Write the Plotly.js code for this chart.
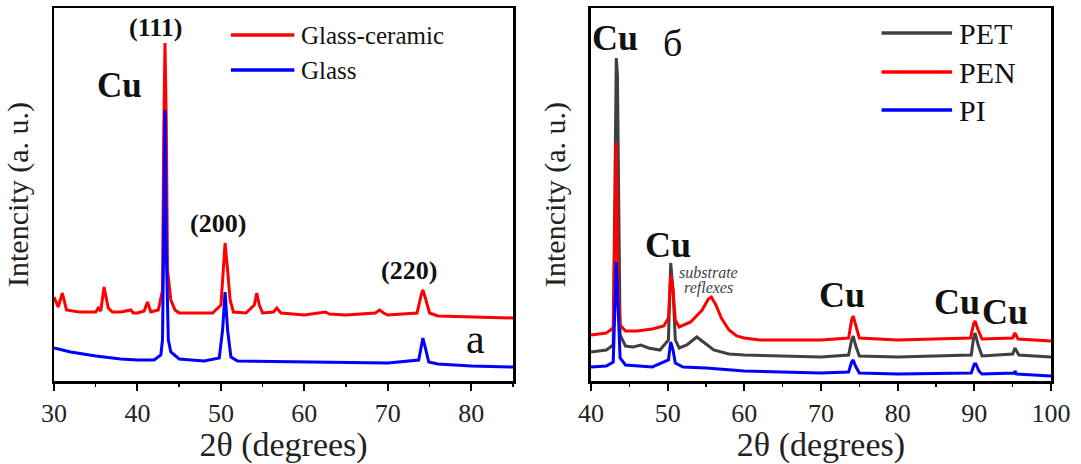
<!DOCTYPE html>
<html>
<head>
<meta charset="utf-8">
<script src="https://cdn.plot.ly/plotly-3.0.1.min.js"></script>
<style>html,body{margin:0;padding:0;background:#fff;}#chart{width:1081px;height:464px;}</style>
</head>
<body>
<div id="chart"></div>
<script>
// ---- Panel (a): Glass-ceramic vs Glass ----
const gcX = [30.0,30.5,31.0,31.5,33.0,35.0,35.3,35.6,36.0,36.5,37.0,38.0,39.2,39.5,40.0,40.8,41.2,41.6,42.5,43.0,43.15,43.3,43.45,43.6,44.0,44.5,45.0,47.0,49.0,50.0,50.3,50.5,50.8,51.1,51.5,53.0,54.0,54.3,54.6,55.0,56.3,56.7,57.2,60.0,62.5,63.0,65.0,68.5,69.0,69.5,70.0,73.5,74.0,74.2,74.5,75.0,76.0,80.0,85.0];
const gcY = [84,74,88,71,69,69,73,70,94,73,69,69,71,68,68,70,79,69,71,91,250,338,260,111,81,71,68,68,68,76,121,138,111,81,69,68,76,88,76,68,69,73,68,66,69,67,66,68,71,68,66,68,86,91,83,68,65,64,63];

const glX = [30.0,32.0,35.0,38.0,40.0,42.0,42.8,43.0,43.2,43.3,43.45,43.7,44.0,45.0,48.0,49.8,50.2,50.5,50.8,51.2,52.0,60.0,70.0,73.7,74.0,74.2,74.5,74.9,76.0,80.0,85.0];
const glY = [33,29,25,22,21,21,26,41,181,271,131,41,29,22,20,23,51,89,51,24,20,19,18,21,36,43,33,19,17,15,14];

// ---- Panel (б): PET, PEN, PI ----
const petX = [40.0,42.0,42.9,43.1,43.3,43.45,43.8,44.5,45.5,46.5,47.5,49.0,50.1,50.4,50.7,51.0,51.5,52.5,53.8,55.0,56.0,58.0,60.0,70.0,73.6,74.0,74.2,74.5,75.0,80.0,89.6,89.9,90.1,90.5,91.0,95.0,95.3,95.8,100.0];
const petY = [29,31,36,181,323,306,46,35,34,36,33,31,41,118,91,41,33,36,44,37,31,27,26,24,26,41,45,36,25,24,26,43,48,36,25,27,33,26,24];

const penX = [40.0,42.0,42.9,43.1,43.3,43.5,43.8,44.5,46.0,48.0,49.5,50.1,50.4,50.7,51.0,51.5,53.0,54.5,55.3,55.7,56.3,57.0,58.0,59.0,60.0,62.0,70.0,73.6,74.0,74.2,74.5,75.0,80.0,89.5,89.9,90.1,90.5,91.0,95.0,95.3,95.7,100.0];
const penY = [46,48,53,131,238,101,56,50,50,52,55,63,106,91,61,54,59,71,82,84,76,63,51,45,43,41,41,43,61,65,56,43,41,43,57,60,51,42,43,48,42,40];

const piX = [40.0,42.0,42.9,43.1,43.3,43.5,43.8,44.5,48.0,50.1,50.4,50.7,51.0,52.0,55.0,60.0,70.0,73.6,74.0,74.2,74.5,75.0,80.0,89.6,90.0,90.2,90.6,91.0,95.2,95.3,95.5,100.0];
const piY = [14,15,19,61,119,81,23,16,14,21,39,31,18,14,13,10,8,9,19,21,15,8,7,8,17,17,10,7,8,10,7,5];

const namesA = ["Glass-ceramic","Glass"];
const colorsA = ["#ff0000","#0000ff"];
const namesB = ["PET","PEN","PI"];
const colorsB = ["#404040","#ff0000","#0000ff"];

const xTitle = "2θ (degrees)";
const yTitle = "Intencity (a. u.)";

const serif = "Liberation Serif";

const traces = [
  {x: gcX, y: gcY, name: namesA[0], xaxis:'x', yaxis:'y', mode:'lines', line:{color:colorsA[0], width:3}},
  {x: glX, y: glY, name: namesA[1], xaxis:'x', yaxis:'y', mode:'lines', line:{color:colorsA[1], width:3}},
  {x: petX, y: petY, name: namesB[0], xaxis:'x2', yaxis:'y2', mode:'lines', line:{color:colorsB[0], width:3}},
  {x: penX, y: penY, name: namesB[1], xaxis:'x2', yaxis:'y2', mode:'lines', line:{color:colorsB[1], width:3}},
  {x: piX, y: piY, name: namesB[2], xaxis:'x2', yaxis:'y2', mode:'lines', line:{color:colorsB[2], width:3}}
];

function xAxis(domain, range, anchor) {
  return {
    domain: domain, range: range, anchor: anchor,
    showline: true, mirror: true, linecolor: '#000', linewidth: 2.5,
    ticks: 'outside', ticklen: 7, tickwidth: 2, tickcolor: '#000', dtick: 10,
    minor: {dtick: 5, ticks: 'outside', ticklen: 3, tickwidth: 1.5, tickcolor: '#000', showgrid: false},
    showgrid: false, zeroline: false,
    tickfont: {family: serif, size: 26, color: '#222'},
    title: {text: xTitle, font: {family: serif, size: 34, color: '#222'}, standoff: 0}
  };
}
function yAxis(anchor) {
  return {
    anchor: anchor, range: [0, 373], domain: [0, 1],
    showline: true, mirror: true, linecolor: '#000', linewidth: 2.5,
    ticks: '', showticklabels: false, showgrid: false, zeroline: false,
    title: {text: yTitle, font: {family: serif, size: 30, color: '#222'}, standoff: 14}
  };
}

const ann = [];
function txt(xref, yref, x, y, text, size, bold, extra) {
  ann.push(Object.assign({xref: xref, yref: yref, x: x, y: y, text: bold ? '<b>' + text + '</b>' : text,
    showarrow: false, font: {family: serif, size: size, color: '#111'}}, extra || {}));
}
// Panel a labels
txt('x','y',42.2,354,'(111)',26,true);
txt('x','y',37.8,296,'Cu',35,true);
txt('x','y',49.6,158,'(200)',26,true);
txt('x','y',72.5,111,'(220)',26,true);
txt('x','y',80.5,42,'a',42,false);
// Panel б labels
txt('x2','y2',43.1,343,'Cu',36,true);
txt('x2','y2',50.6,338,'б',38,false);
txt('x2','y2',50.0,136,'Cu',36,true);
txt('x2','y2',55.3,109,'<i>substrate</i>',16,false,{font:{family:serif,size:16,color:'#444'}});
txt('x2','y2',55.3,93,'<i>reflexes</i>',16,false,{font:{family:serif,size:16,color:'#444'}});
txt('x2','y2',72.7,86,'Cu',36,true);
txt('x2','y2',87.7,79,'Cu',36,true);
txt('x2','y2',94.0,69,'Cu',36,true);

// Legends (drawn as line shapes + text)
const shapes = [];
const legA_y = [346, 311];
namesA.forEach((n, i) => {
  shapes.push({type:'line', xref:'x', yref:'y', x0:51.2, x1:58.8, y0:legA_y[i], y1:legA_y[i], line:{color:colorsA[i], width:3.5}});
  txt('x','y',59.4,legA_y[i],n,25,false,{xanchor:'left'});
});
const legB_y = [348, 309, 271];
namesB.forEach((n, i) => {
  shapes.push({type:'line', xref:'x2', yref:'y2', x0:77.9, x1:87.1, y0:legB_y[i], y1:legB_y[i], line:{color:colorsB[i], width:3.5}});
  txt('x2','y2',87.7,legB_y[i],n,30,false,{xanchor:'left'});
});

const layout = {
  width: 1081, height: 464,
  margin: {l: 54, r: 30, t: 8, b: 83},
  paper_bgcolor: '#fff', plot_bgcolor: '#fff',
  font: {family: serif},
  showlegend: false,
  xaxis: xAxis([0, 0.4604], [30, 85], 'y'),
  yaxis: yAxis('x'),
  xaxis2: xAxis([0.5386, 1], [40, 100], 'y2'),
  yaxis2: yAxis('x2'),
  annotations: ann,
  shapes: shapes
};

Plotly.newPlot('chart', traces, layout, {staticPlot: true});
</script>
</body>
</html>
